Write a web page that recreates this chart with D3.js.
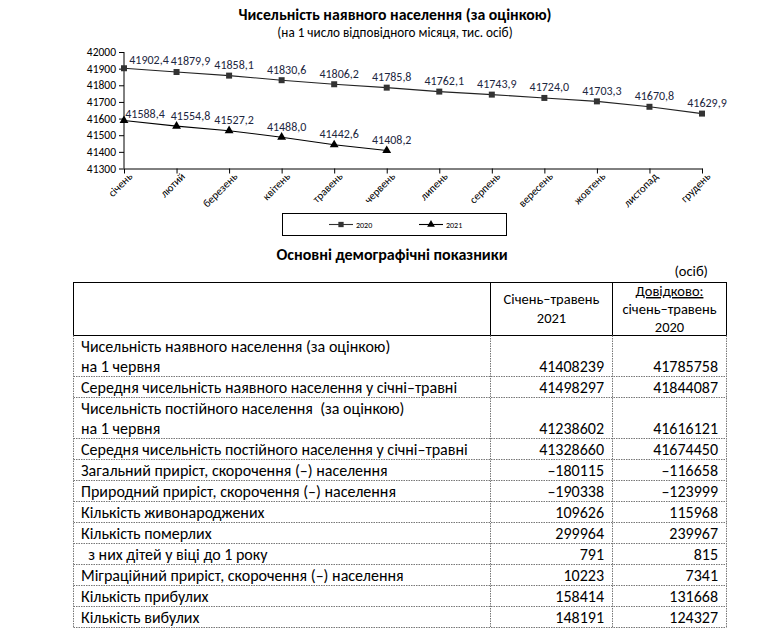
<!DOCTYPE html>
<html><head><meta charset="utf-8">
<script src="https://cdn.jsdelivr.net/npm/d3@7/dist/d3.min.js"></script>
<style>
html,body{margin:0;padding:0;background:#fff;}
svg text{font-family:Carlito,Calibri,Lato,"Open Sans",sans-serif;}
</style></head>
<body>
<svg id="c" width="772" height="636"></svg>
<script>
const months = ["січень","лютий","березень","квітень","травень","червень","липень","серпень","вересень","жовтень","листопад","грудень"];
const values2020 = [41902.4,41879.9,41858.1,41830.6,41806.2,41785.8,41762.1,41743.9,41724.0,41703.3,41670.8,41629.9];
const values2021 = [41588.4,41554.8,41527.2,41488.0,41442.6,41408.2];
const seriesNames = ["2020","2021"];
const yTicks = [41300,41400,41500,41600,41700,41800,41900,42000];

const chartTitle = "Чисельність наявного населення (за оцінкою)";
const chartSubtitle = "(на 1 число відповідного місяця, тис. осіб)";
const tableTitle = "Основні демографічні показники";
const unitNote = "(осіб)";
const header2 = ["Січень–травень","2021"];
const header3 = ["Довідково:","січень–травень","2020"];
const rowLabels = [
  ["Чисельність наявного населення (за оцінкою)","на 1 червня"],
  ["Середня чисельність наявного населення у січні–травні"],
  ["Чисельність постійного населення  (за оцінкою)","на 1 червня"],
  ["Середня чисельність постійного населення у січні–травні"],
  ["Загальний приріст, скорочення (–) населення"],
  ["Природний приріст, скорочення (–) населення"],
  ["Кількість живонароджених"],
  ["Кількість померлих"],
  ["  з них дітей у віці до 1 року"],
  ["Міграційний приріст, скорочення (–) населення"],
  ["Кількість прибулих"],
  ["Кількість вибулих"]
];
const col2021 = ["41408239","41498297","41238602","41328660","–180115","–190338","109626","299964","791","10223","158414","148191"];
const col2020 = ["41785758","41844087","41616121","41674450","–116658","–123999","115968","239967","815","7341","131668","124327"];

const svg = d3.select("#c");
svg.append("rect").attr("width",772).attr("height",636).attr("fill","#fff");

// ---- Chart ----
svg.append("text").attr("x",395).attr("y",19.5).attr("text-anchor","middle")
  .attr("font-weight","bold").attr("font-size",15.8).attr("fill","#000").text(chartTitle);
svg.append("text").attr("x",395).attr("y",36.5).attr("text-anchor","middle")
  .attr("font-size",13.2).attr("fill","#000").text(chartSubtitle);

const x = d3.scalePoint().domain(months).range([124,702]);
const y = d3.scaleLinear().domain([41300,42000]).range([168.5,52]);

const yAxis = svg.append("g").attr("transform","translate(124,0)")
  .call(d3.axisLeft(y).tickValues(yTicks).tickSize(5).tickPadding(3).tickFormat(d3.format("d")));
yAxis.selectAll("text").attr("font-size",11.5).attr("fill","#000");
yAxis.selectAll("line,path").attr("stroke","#000");
yAxis.select(".domain").attr("d","M0,52V168.5");

const xAxis = svg.append("g").attr("transform","translate(0,168.5)")
  .call(d3.axisBottom(x).tickSize(5).tickSizeOuter(0));
xAxis.selectAll("line,path").attr("stroke","#000");
xAxis.selectAll("text").attr("font-size",11).attr("fill","#000")
  .attr("text-anchor","end").attr("transform","translate(4,4) rotate(-45)").attr("dy","0.6em").attr("y",0).attr("x",0);

const line = d3.line().x((d,i)=>x(months[i])).y(d=>y(d));
svg.append("path").datum(values2020).attr("d",line).attr("fill","none").attr("stroke","#222").attr("stroke-width",1.1);
svg.append("path").datum(values2021).attr("d",line).attr("fill","none").attr("stroke","#000").attr("stroke-width",1.1);

const sq = d3.symbol().type(d3.symbolSquare).size(36);
const tri = d3.symbol().type(d3.symbolTriangle).size(34);
svg.append("g").selectAll("path").data(values2020).join("path")
  .attr("d",sq).attr("fill","#333")
  .attr("transform",(d,i)=>`translate(${x(months[i])},${y(d)})`);
svg.append("g").selectAll("path").data(values2021).join("path")
  .attr("d",tri).attr("fill","#000")
  .attr("transform",(d,i)=>`translate(${x(months[i])},${y(d)})`);

const fmt = d => d.toFixed(1).replace(".",",");
const labelColor = "#1c2640";
const dxFor = (i,first) => i===0 ? first : (i===1 ? 14 : 5);
svg.append("g").selectAll("text").data(values2020).join("text")
  .attr("x",(d,i)=>x(months[i])+dxFor(i,25)).attr("y",(d,i)=>y(d)-(i===0?4:6.5))
  .attr("text-anchor","middle").attr("font-size",12).attr("fill",labelColor).text(fmt);
svg.append("g").selectAll("text").data(values2021).join("text")
  .attr("x",(d,i)=>x(months[i])+dxFor(i,21)).attr("y",(d,i)=>y(d)-(i===0?2.5:6.5))
  .attr("text-anchor","middle").attr("font-size",12).attr("fill",labelColor).text(fmt);

// legend
const lg = svg.append("g");
lg.append("rect").attr("x",282.5).attr("y",213.5).attr("width",224).attr("height",22)
  .attr("fill","none").attr("stroke","#000").attr("stroke-width",1);
[[329,"#333"],[419,"#000"]].forEach(([lx,col],k)=>{
  lg.append("line").attr("x1",lx).attr("x2",lx+24).attr("y1",224.5).attr("y2",224.5).attr("stroke",col).attr("stroke-width",1.1);
  lg.append("path").attr("d",d3.symbol().type(k?d3.symbolTriangle:d3.symbolSquare).size(k?26:28)())
    .attr("fill",col).attr("transform",`translate(${lx+12},224.5)`);
  lg.append("text").attr("x",lx+27).attr("y",227.5).attr("font-size",8).attr("fill","#000").text(seriesNames[k]);
});

// ---- Table ----
svg.append("text").attr("x",392).attr("y",259.5).attr("text-anchor","middle")
  .attr("font-weight","bold").attr("font-size",16).attr("fill","#000").text(tableTitle);
svg.append("text").attr("x",708).attr("y",276).attr("text-anchor","end")
  .attr("font-size",14.5).attr("fill","#000").text(unitNote);

const tL=73.5, c1=490.5, c2=612.5, tR=726.5, hTop=282.5, hBot=335.5;
const tg = svg.append("g");
tg.append("rect").attr("x",tL).attr("y",hTop).attr("width",tR-tL).attr("height",hBot-hTop)
  .attr("fill","none").attr("stroke","#000").attr("stroke-width",1);
[c1,c2].forEach(cx=>tg.append("line").attr("x1",cx).attr("x2",cx).attr("y1",hTop).attr("y2",hBot).attr("stroke","#000"));
const hs = 14.5;
header2.forEach((t,i)=>tg.append("text").attr("x",(c1+c2)/2).attr("y",304+i*19).attr("text-anchor","middle").attr("font-size",hs).attr("fill","#000").text(t));
header3.forEach((t,i)=>tg.append("text").attr("x",(c2+tR)/2).attr("y",296+i*18).attr("text-anchor","middle").attr("font-size",hs).attr("fill","#000")
  .style("text-decoration",i===0?"underline":"none").text(t));

let yy = hBot;
const bodyFont = 16;
rowLabels.forEach((lines,r)=>{
  const h = lines.length===2 ? 41 : 21;
  const top = yy, bot = yy+h;
  lines.forEach((t,j)=>{
    tg.append("text").attr("x",81).attr("y",top+16.5+j*20).attr("font-size",bodyFont).attr("fill","#000")
      .style("white-space","pre").text(t);
  });
  const vy = bot-4.5;
  tg.append("text").attr("x",604).attr("y",vy).attr("text-anchor","end").attr("font-size",bodyFont).attr("fill","#000").text(col2021[r]);
  tg.append("text").attr("x",718).attr("y",vy).attr("text-anchor","end").attr("font-size",bodyFont).attr("fill","#000").text(col2020[r]);
  tg.append("line").attr("x1",tL).attr("x2",tR).attr("y1",bot).attr("y2",bot)
    .attr("stroke","#777").attr("stroke-width",1).attr("stroke-dasharray","1.5,1");
  yy = bot;
});
[tL,c1,c2,tR].forEach(cx=>tg.append("line").attr("x1",cx).attr("x2",cx).attr("y1",hBot).attr("y2",yy)
  .attr("stroke","#777").attr("stroke-width",1).attr("stroke-dasharray","1.5,1"));
</script>
</body></html>
